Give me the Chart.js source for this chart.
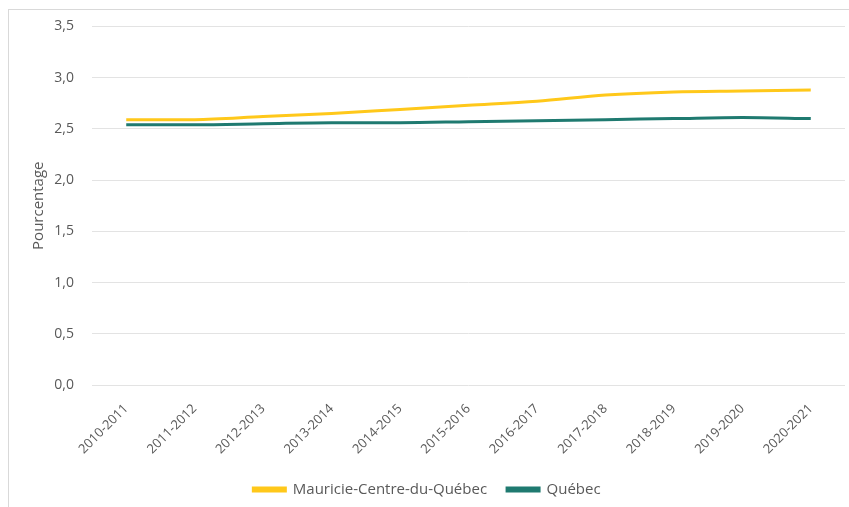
<!DOCTYPE html>
<html lang="fr">
<head>
<meta charset="utf-8">
<script src="https://cdn.jsdelivr.net/npm/chart.js@4"></script>
<style>
  html, body { margin: 0; padding: 0; background: #fff; }
  #wrap { position: relative; width: 849px; height: 507px; overflow: hidden; }
  #frame {
    position: absolute; left: 8px; top: 9px; width: 900px; height: 600px;
    border: 1px solid #d9d9d9; pointer-events: none;
  }
  canvas { position: absolute; left: 0; top: 0; }
</style>
</head>
<body>
<div id="wrap">
  <canvas id="taux" width="849" height="507"></canvas>
  <div id="frame"></div>
</div>
<script>
// Années scolaires
const annees = [
  "2010-2011", "2011-2012", "2012-2013", "2013-2014", "2014-2015", "2015-2016",
  "2016-2017", "2017-2018", "2018-2019", "2019-2020", "2020-2021",
];
// Pourcentages par région
const mauricie = [2.59, 2.59, 2.62, 2.65, 2.69, 2.73, 2.77, 2.83, 2.86, 2.87, 2.88];
const quebec = [2.54, 2.54, 2.55, 2.56, 2.56, 2.57, 2.58, 2.59, 2.60, 2.61, 2.60];
const seriesNoms = ["Mauricie-Centre-du-Québec", "Québec"];

const gris = "#595959";
const famille = "'Open Sans', sans-serif";

const ctx = document.getElementById("taux").getContext("2d");
new Chart(ctx, {
  type: "line",
  data: {
    labels: annees,
    datasets: [
      {
        label: seriesNoms[0],
        data: mauricie,
        borderColor: "#ffc81a",
        backgroundColor: "#ffc81a",
        borderWidth: 3,
        pointRadius: 0,
        cubicInterpolationMode: "monotone",
      },
      {
        label: seriesNoms[1],
        data: quebec,
        borderColor: "#1f7a70",
        backgroundColor: "#1f7a70",
        borderWidth: 3,
        pointRadius: 0,
        cubicInterpolationMode: "monotone",
      },
    ],
  },
  options: {
    responsive: false,
    animation: false,
    layout: { padding: { left: 9, right: 4, top: 26, bottom: 0 } },
    plugins: {
      tooltip: { enabled: false },
      legend: {
        position: "bottom",
        labels: {
          color: gris,
          font: { family: famille, size: 15 },
          boxWidth: 32,
          boxHeight: 3,
          padding: 20,
        },
      },
    },
    scales: {
      y: {
        min: 0,
        max: 3.5,
        afterFit: (scale) => { scale.width = 83; },
        ticks: {
          stepSize: 0.5,
          color: gris,
          font: { family: famille, size: 14 },
          padding: 18,
          callback: (v) => v.toFixed(1).replace(".", ","),
        },
        grid: { color: "#e3e3e3", drawTicks: false },
        border: { display: false },
        title: {
          display: true,
          text: "Pourcentage",
          color: gris,
          font: { family: famille, size: 15 },
          padding: { top: 21, bottom: 0 },
        },
      },
      x: {
        offset: true,
        afterFit: (scale) => { scale.height = 77; },
        ticks: {
          color: gris,
          font: { family: famille, size: 13 },
          minRotation: 45,
          maxRotation: 45,
          padding: 8,
        },
        grid: { display: false, offset: true },
        border: { display: false },
      },
    },
  },
});
</script>
</body>
</html>
